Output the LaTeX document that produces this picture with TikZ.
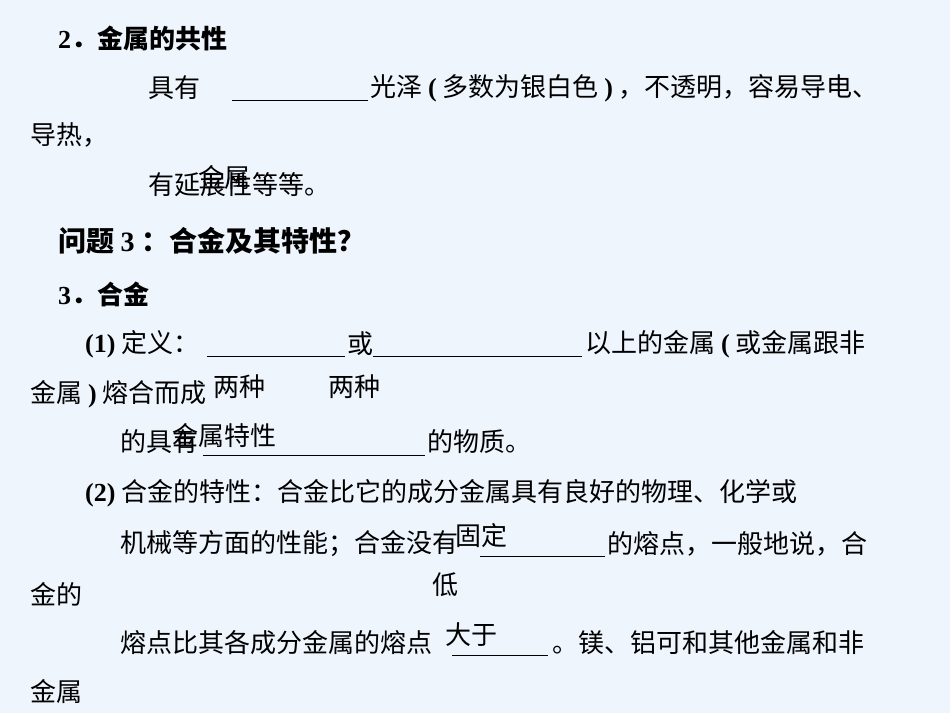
\documentclass[tikz,border=0pt]{standalone}
\usepackage{fontspec}
\newfontfamily\cjk{Noto Sans CJK SC}
\newfontfamily\lat{Liberation Serif}
\newcommand\latb[1]{{\lat\bfseries #1}}
\begin{document}
\begin{tikzpicture}[x=1pt,y=-1pt,
 t/.style={anchor=west,inner sep=0pt,font=\cjk\fontsize{26}{26}\selectfont},
 b/.style={t,font=\cjk\bfseries\fontsize{26}{26}\selectfont},
 h/.style={t,font=\cjk\bfseries\fontsize{28}{28}\selectfont},
 ul/.style={line width=0.9pt}]
\fill[color={rgb,255:red,238;green,245;blue,253}] (0,0) rectangle (950,713);
\useasboundingbox (0,0) rectangle (950,713);
\node[b] (l1) at (58,38) {\latb{2}．金属的共性};
\node[t] (l2a) at (148,88) {具有};
\draw[ul] (232,100) -- (368,100);
\node[t] (l2b) at (370,88) {光泽 \latb{(} 多数为银白色 \latb{)} ，不透明，容易导电、};
\node[t] (l3) at (30,135) {导热，};
\node[t] (l4) at (148,185) {有延展性等等。};
\node[t] (a1) at (198,178) {金属};
\node[h] (q3) at (58,241) {问题 \latb{3} ：合金及其特性？};
\node[b] (s3) at (58,294) {\latb{3}．合金};
\node[t] (d1) at (85,344) {\latb{(1)} 定义：};
\draw[ul] (207,356) -- (345,356);
\node[t] (d2) at (347,344) {或};
\draw[ul] (373,356) -- (582,356);
\node[t] (d3) at (585,344) {以上的金属 \latb{(} 或金属跟非};
\node[t] (d4) at (30,394) {金属 \latb{)} 熔合而成};
\node[t] (a2) at (213,387) {两种};
\node[t] (a3) at (328,387) {两种};
\node[t] (d5) at (120,442) {的具有};
\draw[ul] (203,455) -- (425,455);
\node[t] (d6) at (427,442) {的物质。};
\node[t] (a4) at (172,436) {金属特性};
\node[t] (p1) at (85,493) {\latb{(2)} 合金的特性：合金比它的成分金属具有良好的物理、化学或};
\node[t] (p2) at (120,544) {机械等方面的性能；合金没有};
\draw[ul] (480,556) -- (605,556);
\node[t] (p3) at (607,544) {的熔点，一般地说，合};
\node[t] (a5) at (455,536) {固定};
\node[t] (p4) at (30,594) {金的};
\node[t] (a6) at (432,585) {低};
\node[t] (p5) at (120,643) {熔点比其各成分金属的熔点};
\draw[ul] (452,655) -- (548,655);
\node[t] (p6) at (552,643) {。镁、铝可和其他金属和非};
\node[t] (a7) at (445,635) {大于};
\node[t] (p7) at (30,692) {金属};
\end{tikzpicture}
\end{document}
